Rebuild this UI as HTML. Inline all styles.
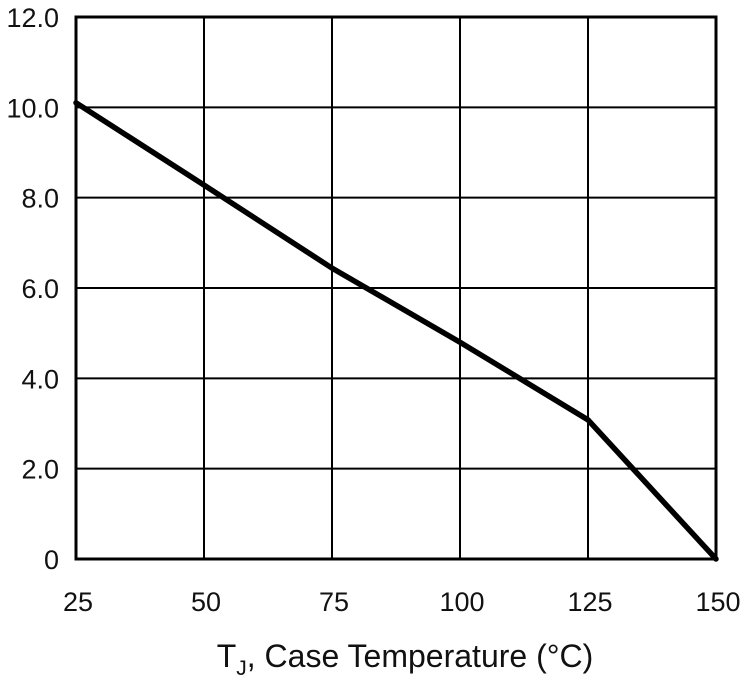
<!DOCTYPE html>
<html><head><meta charset="utf-8"><style>
body{margin:0;background:#fff;}
svg text{font-family:"Liberation Sans",Arial,sans-serif;fill:#111;}
</style></head><body>
<svg id="chart" width="747" height="675">
<g id="grid"></g><g id="ticks"></g><g id="series"></g>
<rect x="76" y="17" width="640" height="542" fill="none" stroke="#000" stroke-width="3"/>
<text x="405" y="667" font-size="32" text-anchor="middle">T<tspan font-size="21" dy="8">J</tspan><tspan dy="-8">, Case Temperature (°C)</tspan></text>
</svg>
<script>
const xTicks=[25,50,75,100,125,150];
const yTicks=[0,2,4,6,8,10,12];
const yTickLabels=["0","2.0","4.0","6.0","8.0","10.0","12.0"];
const temps=[25,50,75,100,125,150];
const values=[10.1,8.28,6.44,4.8,3.08,0];
const L=76,R=716,T=17,B=559;
const xs=v=>L+(v-25)/125*(R-L);
const ys=v=>B-v/12*(B-T);
const NS="http://www.w3.org/2000/svg";
const g=document.getElementById('grid'),tk=document.getElementById('ticks'),s=document.getElementById('series');
function mk(t,a,p){const e=document.createElementNS(NS,t);for(const k in a)e.setAttribute(k,a[k]);p.appendChild(e);return e;}
xTicks.forEach(v=>{
 const l=mk('line',{x1:xs(v),x2:xs(v),y1:T,y2:B,stroke:'#000','stroke-width':2},g);
 
 
 const t=mk('text',{x:xs(v)+2,y:611,'font-size':27,'text-anchor':'middle'},tk);t.textContent=v;
 
 
});
yTicks.forEach((v,i)=>{
 const l=mk('line',{x1:L,x2:R,y1:ys(v),y2:ys(v),stroke:'#000','stroke-width':2},g);
 
 
 const t=mk('text',{x:59,y:ys(v)+10,'font-size':27,'text-anchor':'end'},tk);t.textContent=yTickLabels[i];
 
 
});
const p=mk('polyline',{points:temps.map((t,i)=>xs(t)+','+ys(values[i])).join(' '),fill:'none',stroke:'#000','stroke-width':5.5,'stroke-linejoin':'round','stroke-linecap':'round'},s);


</script>
</body></html>
